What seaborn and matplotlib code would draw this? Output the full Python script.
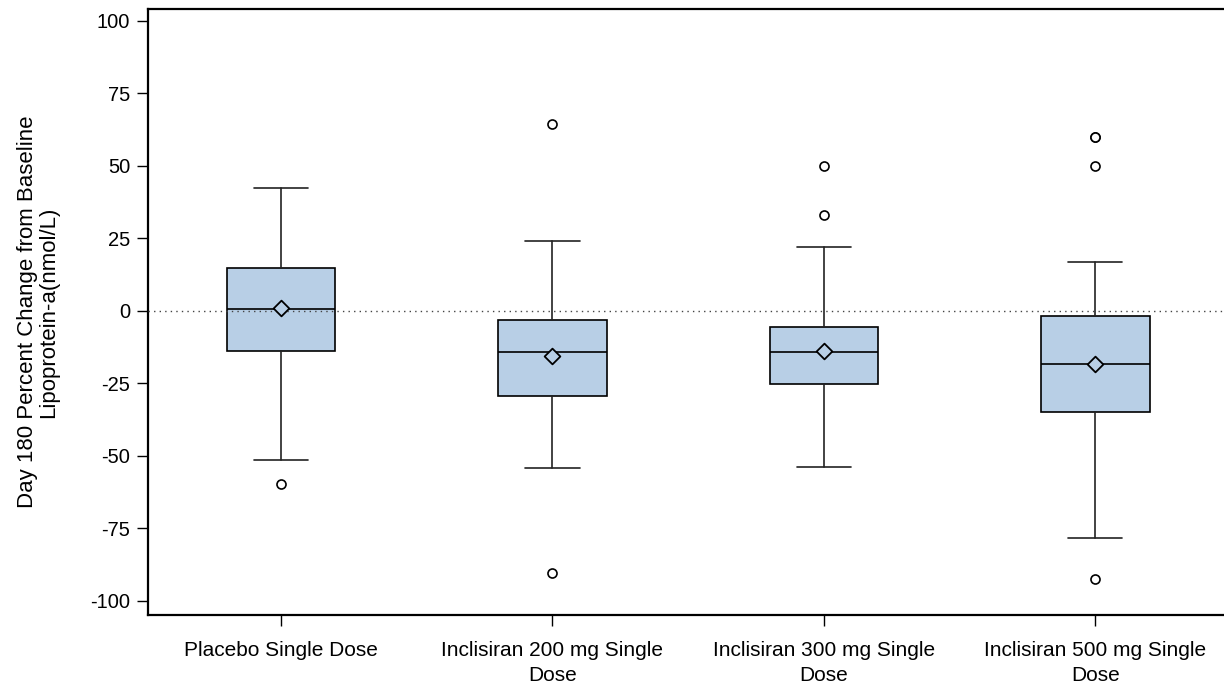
import textwrap
import numpy as np
import pandas as pd
import matplotlib
matplotlib.use("Agg")
import matplotlib.pyplot as plt
import seaborn as sns

# summary statistics
groups = ["Placebo Single Dose", "Inclisiran 200 mg Single Dose",
          "Inclisiran 300 mg Single Dose", "Inclisiran 500 mg Single Dose"]
whislo = [-51.4, -54.1, -53.7, -78.3]
q1 = [-13.8, -29.3, -25.3, -34.9]
med = [0.6, -14.3, -14.3, -18.2]
q3 = [14.8, -3.3, -5.6, -1.6]
whishi = [42.4, 24.2, 22.1, 16.9]
means = [0.9, -15.6, -13.7, -18.3]
outliers = [[-59.8], [64.5, -90.5], [49.8, 32.9], [60.0, 59.9, 49.8, -92.5]]

box_color = "#b8cfe6"

sns.set_theme(style="white")
plt.rcParams["font.family"] = ["Liberation Sans", "DejaVu Sans"]
plt.rcParams["axes.unicode_minus"] = False
plt.rcParams["text.color"] = "black"
plt.rcParams["axes.labelcolor"] = "black"
plt.rcParams["xtick.color"] = "black"
plt.rcParams["ytick.color"] = "black"

fig = plt.figure(figsize=(12.24, 6.87), dpi=100)
ax = fig.add_axes([0.121, 0.105, 0.878, 0.882])

# means (diamonds) - seaborn sets up the categorical axis
mean_df = pd.DataFrame({"group": groups, "mean": means})
sns.stripplot(data=mean_df, x="group", y="mean", order=groups, jitter=False,
              marker="D", size=8, color=box_color, edgecolor="black",
              linewidth=1.3, ax=ax, zorder=5)

# outliers (open circles)
out_df = pd.DataFrame({
    "group": [g for g, o in zip(groups, outliers) for _ in o],
    "value": [v for o in outliers for v in o],
})
sns.stripplot(data=out_df, x="group", y="value", order=groups, jitter=False,
              marker="o", size=6.5, color="white", edgecolor="black",
              linewidth=1.2, ax=ax, zorder=5)

# boxes from the summary stats
stats = []
for i in range(len(groups)):
    stats.append({"whislo": whislo[i], "q1": q1[i], "med": med[i],
                  "q3": q3[i], "whishi": whishi[i], "fliers": []})
ax.bxp(stats, positions=np.arange(len(groups)), widths=0.4, capwidths=0.2,
       patch_artist=True, manage_ticks=False, showfliers=False,
       boxprops=dict(facecolor=box_color, edgecolor="black", linewidth=1.2),
       medianprops=dict(color="black", linewidth=1.2),
       whiskerprops=dict(color="#222222", linewidth=1.2),
       capprops=dict(color="#222222", linewidth=1.2))

ax.axhline(0, color="#444444", linestyle=(0, (1, 3)), linewidth=1.0, zorder=3)

ax.set_xlim(-0.49, 3.47)
ax.set_ylim(-104.8, 104.1)
ax.set_yticks(np.arange(-100, 101, 25))
ax.set_xticks(np.arange(len(groups)))
ax.set_xticklabels([textwrap.fill(g, 24) for g in groups], fontsize=15,
                   linespacing=1.35, color="black")
ax.tick_params(axis="y", labelsize=14.5, pad=5)
ax.tick_params(axis="x", pad=11)
ax.tick_params(axis="both", direction="out", length=8, width=1.0,
               color="black", labelcolor="black", left=True, bottom=True)
ax.set_xlabel("")
ax.set_ylabel("Day 180 Percent Change from Baseline\nLipoprotein-a(nmol/L)",
              fontsize=16, labelpad=22, linespacing=1.05, color="black")

for side in ["left", "bottom", "top"]:
    ax.spines[side].set_color("black")
    ax.spines[side].set_linewidth(1.6)
ax.spines["right"].set_visible(False)

fig.savefig("out.png", dpi=100)
